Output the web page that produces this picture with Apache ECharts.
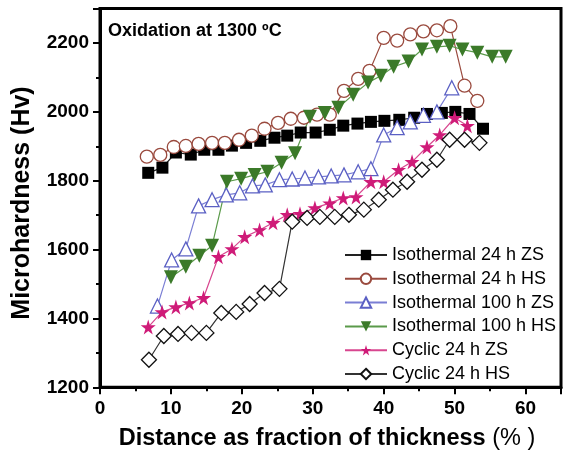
<!DOCTYPE html>
<html>
<head>
<meta charset="utf-8">
<script src="https://cdn.jsdelivr.net/npm/echarts@6/dist/echarts.min.js"></script>
<style>
  html, body { margin: 0; padding: 0; background: #fff; }
  #chart { width: 564px; height: 455px; }
</style>
</head>
<body>
<div id="chart"></div>
<script>
// values
var legendNames = ['Isothermal 24 h ZS', 'Isothermal 24 h HS', 'Isothermal 100 h ZS',
                   'Isothermal 100 h HS', 'Cyclic 24 h ZS', 'Cyclic 24 h HS'];

var iso24zsX = [6.8, 8.8, 10.7, 12.8, 14.7, 16.7, 18.6, 20.6, 22.6, 24.6, 26.4, 28.3, 30.4,
                32.4, 34.3, 36.3, 38.2, 40.1, 42.2, 44.3, 46.1, 48.2, 50.1, 52.1, 54];
var iso24zsY = [1823, 1838, 1882, 1876, 1890, 1890, 1902, 1910, 1916, 1925, 1931, 1940, 1940,
                1948, 1960, 1966, 1971, 1974, 1977, 1983, 1994, 1997, 2000, 1994, 1951];

var iso24hsX = [6.6, 8.5, 10.4, 12.1, 13.9, 15.8, 17.6, 19.6, 21.4, 23.2, 25.1, 26.9, 28.75,
                30.6, 32.4, 34.4, 36.4, 38, 40, 41.9, 43.75, 45.6, 47.5, 49.4, 51.4, 53.2];
var iso24hsY = [1870, 1875, 1898, 1901, 1907, 1910, 1910, 1919, 1931, 1951, 1968, 1980, 1983,
                1992, 1992, 2061, 2096, 2119, 2215, 2207, 2225, 2234, 2237, 2249, 2076, 2032];

var iso100zsX = [8.1, 10.1, 12.1, 13.9, 15.8, 17.8, 19.7, 21.5, 23.3, 25.3, 27.1, 28.9, 30.8,
                 32.6, 34.4, 36.4, 38.2, 40, 41.9, 43.75, 45.6, 47.5, 49.6];
var iso100zsY = [1436, 1570, 1602, 1727, 1745, 1759, 1765, 1785, 1788, 1803, 1805, 1808, 1811,
                 1814, 1817, 1826, 1835, 1933, 1954, 1971, 1990, 2000, 2070];

var iso100hsX = [10, 12.1, 14, 15.8, 17.9, 19.9, 21.8, 23.6, 25.6, 27.5, 29.6, 31.7, 33.6,
                 35.7, 37.8, 39.6, 41.4, 43.5, 45.4, 47.5, 49.3, 51.1, 53.2, 55.3, 57.2];
var iso100hsY = [1520, 1550, 1582, 1611, 1797, 1806, 1817, 1826, 1852, 1880, 1986, 1997, 2012,
                 2050, 2085, 2105, 2131, 2146, 2181, 2189, 2192, 2181, 2172, 2160, 2160];

var cyc24zsX = [6.8, 8.75, 10.7, 12.6, 14.6, 16.7, 18.6, 20.4, 22.5, 24.4, 26.4, 28.2, 30.3,
                32.4, 34.3, 36.1, 38.2, 40, 42.1, 44, 46.1, 47.9, 50, 51.8];
var cyc24zsY = [1375, 1419, 1433, 1445, 1460, 1579, 1602, 1637, 1657, 1678, 1701, 1704, 1721,
                1735, 1750, 1753, 1797, 1797, 1832, 1855, 1898, 1933, 1983, 1960];

var cyc24hsX = [6.9, 9, 11, 12.9, 15, 17.1, 19.2, 21.1, 23.2, 25.3, 27.1, 29.2, 31, 33.1,
                35.1, 37.2, 39.3, 41.3, 43.3, 45.4, 47.5, 49.3, 51.4, 53.5];
var cyc24hsY = [1280, 1349, 1355, 1358, 1358, 1416, 1419, 1442, 1474, 1486, 1681, 1692, 1695,
                1695, 1701, 1716, 1745, 1774, 1797, 1832, 1861, 1919, 1919, 1910];

function pairs(xs, ys) {
    return xs.map(function (x, i) { return [x, ys[i]]; });
}

var FONT = 'Liberation Sans, Arial, Helvetica, sans-serif';
var STAR = 'path://M50,0 L61,35 L98,35 L68,57 L79,91 L50,70 L21,91 L32,57 L2,35 L39,35 Z';

var myChart = echarts.init(document.getElementById('chart'));

var series = [
    {
        name: legendNames[0], data: pairs(iso24zsX, iso24zsY),
        symbol: 'rect', symbolSize: 12,
        itemStyle: { color: '#000' },
        lineStyle: { color: '#222', width: 1.2 }
    },
    {
        name: legendNames[1], data: pairs(iso24hsX, iso24hsY),
        symbol: 'circle', symbolSize: 13,
        itemStyle: { color: '#fff', borderColor: '#9a4a3e', borderWidth: 1.3 },
        lineStyle: { color: '#9a4a3e', width: 1.2 }
    },
    {
        name: legendNames[2], data: pairs(iso100zsX, iso100zsY),
        symbol: 'triangle', symbolSize: 14,
        itemStyle: { color: '#fff', borderColor: '#5b60c4', borderWidth: 1.3 },
        lineStyle: { color: '#7a7ed4', width: 1.2 }
    },
    {
        name: legendNames[3], data: pairs(iso100hsX, iso100hsY),
        symbol: 'triangle', symbolRotate: 180, symbolSize: 14,
        itemStyle: { color: '#3b7a29' },
        lineStyle: { color: '#5a9a4a', width: 1.2 }
    },
    {
        name: legendNames[4], data: pairs(cyc24zsX, cyc24zsY),
        symbol: STAR, symbolSize: 15,
        itemStyle: { color: '#cf1b78' },
        lineStyle: { color: '#d8468f', width: 1.2 }
    },
    {
        name: legendNames[5], data: pairs(cyc24hsX, cyc24hsY),
        symbol: 'diamond', symbolSize: 15,
        itemStyle: { color: '#fff', borderColor: '#111', borderWidth: 1.3 },
        lineStyle: { color: '#333', width: 1.2 }
    }
];
series.forEach(function (s) {
    s.type = 'line';
    s.showAllSymbol = true;
    s.animation = false;
    s.emphasis = { disabled: true };
});

var option = {
    animation: false,
    grid: {
        left: 100, top: 8.6, width: 468, height: 378.7,
        show: true, borderColor: '#000', borderWidth: 3, backgroundColor: 'transparent'
    },
    xAxis: [
        {
            type: 'value', min: 0, max: 65, interval: 10, position: 'bottom',
            axisLine: { lineStyle: { color: '#000', width: 3 } },
            axisTick: { inside: false, length: 7, lineStyle: { color: '#000', width: 2 } },
            axisLabel: {
                margin: 12, color: '#000', fontFamily: FONT, fontWeight: 'bold', fontSize: 19,
                formatter: function (v) { return v % 10 === 0 ? String(v) : ''; }
            },
            splitLine: { show: false }
        },
        {
            type: 'value', min: 0, max: 65, interval: 5, position: 'bottom',
            axisLine: { show: false },
            axisTick: { inside: false, length: 4, lineStyle: { color: '#000', width: 2 } },
            axisLabel: { show: false },
            splitLine: { show: false }
        }
    ],
    yAxis: [
        {
            type: 'value', min: 1200, max: 2300, interval: 200, position: 'left',
            axisLine: { show: true, lineStyle: { color: '#000', width: 3 } },
            axisTick: { show: true, inside: false, length: 7, lineStyle: { color: '#000', width: 2 } },
            axisLabel: {
                margin: 11, color: '#000', fontFamily: FONT, fontWeight: 'bold', fontSize: 19,
                formatter: function (v) { return (v - 1200) % 200 === 0 ? String(v) : ''; }
            },
            splitLine: { show: false }
        },
        {
            type: 'value', min: 1200, max: 2300, interval: 100, position: 'left',
            axisLine: { show: false },
            axisTick: { show: true, inside: false, length: 4, lineStyle: { color: '#000', width: 2 } },
            axisLabel: { show: false },
            splitLine: { show: false }
        }
    ],
    legend: {
        data: legendNames,
        orient: 'vertical',
        left: 339, top: 240,
        itemWidth: 42, itemHeight: 13, itemGap: 3.8,
        textStyle: { color: '#000', fontFamily: FONT, fontSize: 18, lineHeight: 20 },
        selectedMode: false
    },
    graphic: [
        {
            type: 'text', left: 108, top: 22,
            style: { text: 'Oxidation at 1300 ºC', fill: '#000', font: 'bold 18px ' + FONT }
        },
        {
            type: 'text', x: 22, y: 203, rotation: Math.PI / 2,
            style: {
                text: 'Microhardness (Hv)', fill: '#000', font: 'bold 25px ' + FONT,
                textAlign: 'center', textVerticalAlign: 'middle'
            }
        },
        {
            type: 'text', x: 327, y: 439,
            style: {
                text: '{b|Distance as fraction of thickness }{n|(% )}',
                textAlign: 'center', textVerticalAlign: 'middle',
                rich: {
                    b: { fontFamily: FONT, fontWeight: 'bold', fontSize: 23.5, fill: '#000' },
                    n: { fontFamily: FONT, fontSize: 23.5, fill: '#000' }
                }
            }
        }
    ],
    series: series
};
myChart.setOption(option);
</script>
</body>
</html>
